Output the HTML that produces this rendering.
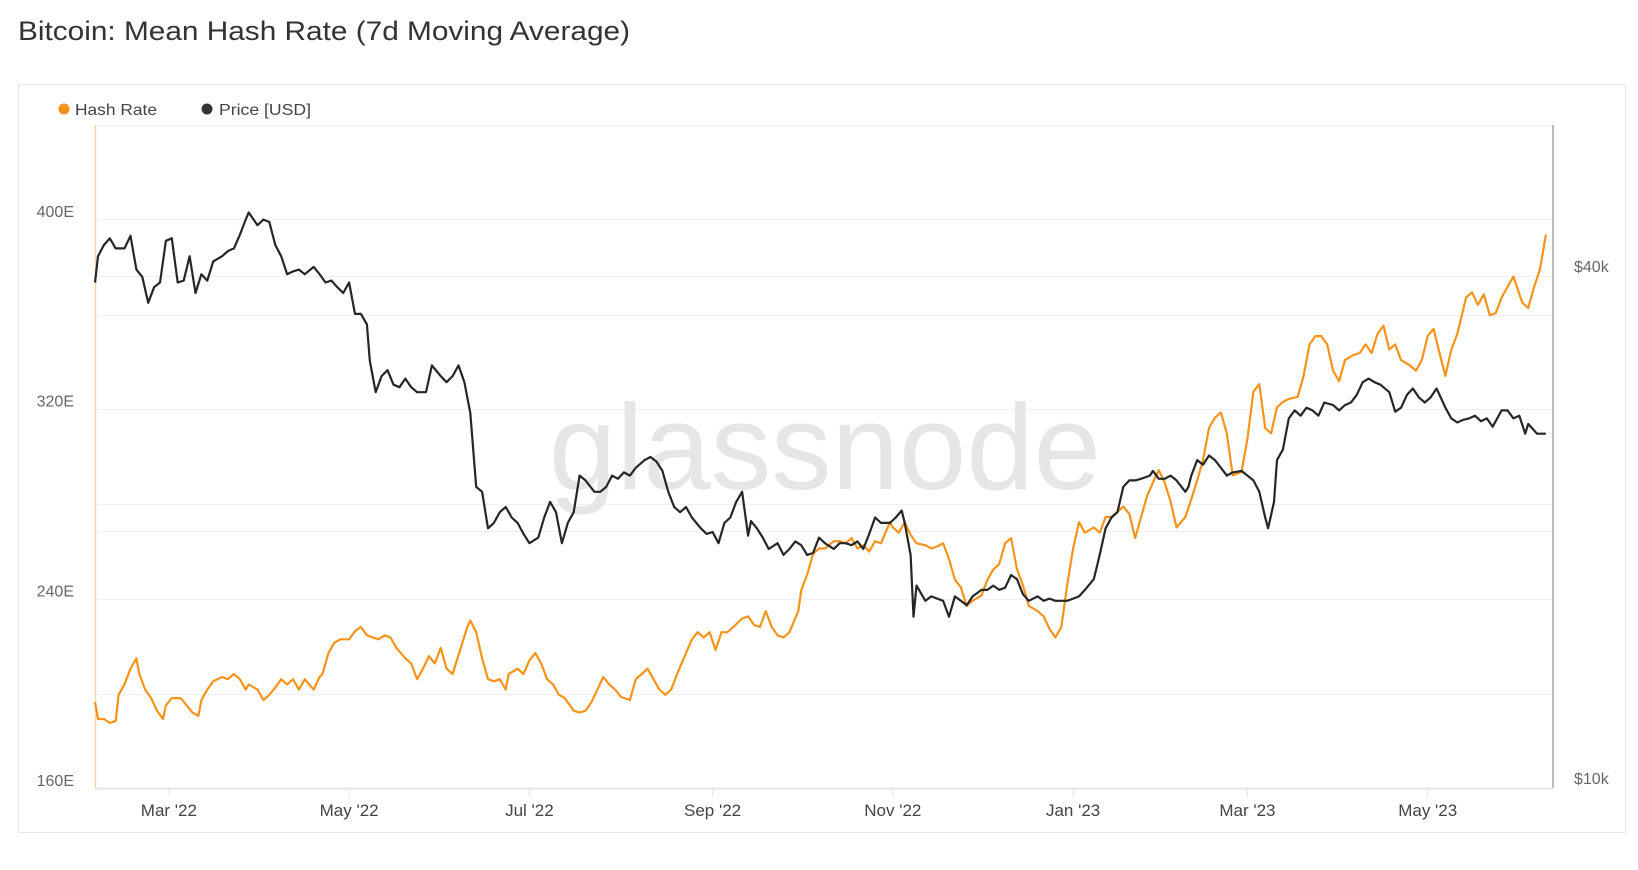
<!DOCTYPE html>
<html><head><meta charset="utf-8"><style>
html,body{margin:0;padding:0;background:#fff;}
svg{display:block;font-family:"Liberation Sans",sans-serif;}
</style></head><body>
<svg id="chart" width="1638" height="870" viewBox="0 0 1638 870" xmlns="http://www.w3.org/2000/svg">
<text x="18" y="40" font-size="27" fill="#333" textLength="612" lengthAdjust="spacingAndGlyphs">Bitcoin: Mean Hash Rate (7d Moving Average)</text>
<rect x="18.5" y="84.5" width="1607" height="748" fill="none" stroke="#e8e8e8"/>
<g>
<circle cx="64" cy="109" r="5.5" fill="#f7931a"/>
<text x="75" y="115" font-size="16" fill="#444" textLength="82" lengthAdjust="spacingAndGlyphs">Hash Rate</text>
<circle cx="207" cy="109" r="5.5" fill="#333"/>
<text x="219" y="115" font-size="16" fill="#444" textLength="92" lengthAdjust="spacingAndGlyphs">Price [USD]</text>
</g>
<g id="grid"></g>
<text x="549" y="489" font-size="122" fill="#e6e6e6" textLength="552" lengthAdjust="spacingAndGlyphs">glassnode</text>
<line x1="95" y1="125.5" x2="1553" y2="125.5" stroke="#eee"/>
<line x1="95.5" y1="125" x2="95.5" y2="788" stroke="#fcd3a6" stroke-width="1.5"/>
<line x1="1553" y1="125" x2="1553" y2="788" stroke="#bbb" stroke-width="2"/>
<line x1="95" y1="788.5" x2="1553" y2="788.5" stroke="#e4e4e4" stroke-width="2"/>
<g id="axes"></g>
<g id="series"></g>
</svg>
<script>
const hashDays=[0,1,3,5,7,8,10,12,14,15,17,19,21,23,24,26,29,31,33,35,36,38,40,43,45,47,49,51,52,55,57,59,61,63,65,67,69,71,74,76,77,79,81,83,86,88,90,92,94,96,98,100,102,105,107,109,111,113,115,117,119,121,124,126,127,129,131,133,135,137,139,140,143,145,147,149,151,153,155,157,159,162,164,166,168,170,172,174,176,178,181,183,185,187,189,191,193,195,197,200,202,204,206,208,210,212,214,216,219,221,223,225,227,229,231,233,235,238,239,241,243,245,247,250,252,254,256,258,260,262,264,266,269,270,272,274,276,278,281,283,285,287,289,291,293,295,297,300,302,304,306,308,310,312,314,316,319,321,323,325,327,329,331,333,335,338,340,342,344,346,348,350,352,354,356,358,360,362,364,366,369,371,373,375,377,379,381,383,385,388,390,392,394,396,398,400,402,404,407,409,411,413,415,417,419,421,423,426,428,430,432,434,436,438,440,442,445,447,449,451,453,455,457,459,461,464,466,468,470,472,474,476,478,480,483,485,487,489,491];
const hashValues=[196.2,189.1,189.1,187.4,188.2,199.3,203.7,210.3,214.7,208.1,201.5,197.9,192.6,189.1,194.9,197.9,197.9,194.9,191.8,190.4,197.1,201.5,205.0,206.8,205.9,208.1,205.9,201.5,203.7,201.5,197.1,199.3,202.4,205.9,203.7,205.9,201.5,205.9,201.5,206.8,208.1,216.9,221.3,222.7,222.7,226.2,227.9,224.4,223.5,222.7,224.4,223.5,219.1,214.7,212.5,205.9,210.3,215.6,212.5,219.1,210.3,208.1,220.0,227.9,230.6,225.7,214.7,205.9,205.0,205.9,201.5,208.1,210.3,208.1,213.8,216.9,212.5,205.9,203.7,199.3,197.9,192.6,191.8,192.6,196.2,201.5,206.8,203.7,201.5,198.4,197.1,205.9,208.1,210.3,205.9,201.5,199.3,201.5,208.1,216.9,222.7,225.7,223.5,225.7,218.2,225.7,225.7,227.9,231.5,232.4,228.8,227.9,234.6,227.9,224.4,223.5,225.7,234.6,243.4,250.0,258.8,261.0,261.0,264.1,264.1,263.2,265.4,261.0,262.4,259.7,264.1,263.2,272.1,269.9,267.7,272.1,266.8,263.2,262.4,261.0,261.9,263.2,256.6,247.8,244.7,236.8,239.0,241.2,247.8,252.2,254.4,263.2,265.4,252.2,245.6,236.8,234.6,232.4,227.1,223.5,227.9,245.6,261.0,272.1,267.7,269.9,267.7,274.3,274.3,276.5,278.7,275.6,265.4,274.3,283.1,288.8,294.1,288.8,280.9,269.9,274.3,281.8,289.7,298.5,311.8,316.2,318.4,309.6,291.9,293.2,307.4,327.2,330.3,311.8,309.6,320.6,322.8,324.1,325.0,333.8,347.1,350.6,350.6,347.1,336.0,331.6,340.5,342.7,343.5,347.1,343.5,351.5,355.0,344.9,347.1,340.5,338.2,336.0,340.5,350.6,353.7,343.5,333.8,344.9,351.5,366.9,369.1,363.8,368.2,359.4,360.3,366.9,371.3,375.7,364.7,362.5,371.3,378.8,393.4];
const priceDays=[0,1,3,5,7,10,12,14,16,18,20,22,24,26,28,30,32,34,36,38,40,43,45,47,49,51,52,55,57,59,61,63,65,67,69,71,74,76,78,80,82,84,86,88,90,92,93,95,97,99,101,103,105,107,109,112,114,117,119,121,123,125,127,129,131,133,135,137,139,141,143,145,147,150,152,154,156,158,160,162,164,166,169,171,173,175,177,179,181,183,186,188,190,192,194,196,198,200,202,205,207,209,211,213,215,217,219,221,222,224,226,228,231,233,235,237,239,241,243,245,247,250,252,254,256,258,260,262,264,266,269,271,273,274,276,277,278,281,283,285,287,289,291,293,295,297,300,302,304,306,308,310,312,314,316,319,321,323,325,327,329,331,333,335,338,340,342,344,346,348,350,352,354,357,358,360,362,364,366,369,370,371,373,375,377,379,381,383,385,388,390,392,394,396,397,399,400,402,404,406,408,410,412,414,416,419,421,423,425,427,429,431,433,435,438,440,442,444,446,448,450,452,454,457,459,461,463,465,467,469,471,473,476,478,480,482,484,485,488,490,491];
const priceValues=[39.3,42.2,43.5,44.3,43.1,43.1,44.6,40.7,39.9,37.2,38.8,39.3,44.0,44.3,39.3,39.5,42.2,38.2,40.2,39.5,41.6,42.2,42.8,43.1,44.7,46.6,47.5,45.9,46.6,46.3,43.5,42.2,40.2,40.5,40.7,40.2,41.0,40.2,39.3,39.5,38.8,38.2,39.3,36.1,36.1,35.1,31.8,29.2,30.5,31.0,29.8,29.6,30.3,29.6,29.2,29.2,31.4,30.5,30.0,30.5,31.4,30.0,27.6,22.6,22.3,20.2,20.5,21.1,21.4,20.8,20.5,19.9,19.4,19.7,20.8,21.7,21.1,19.4,20.5,21.1,23.3,23.0,22.3,22.3,22.6,23.3,23.1,23.5,23.3,23.8,24.3,24.5,24.2,23.6,22.3,21.4,21.1,21.4,20.8,20.2,19.9,20.0,19.4,20.5,20.8,21.7,22.3,19.8,20.6,20.2,19.7,19.1,19.4,18.8,19.1,19.5,19.3,18.8,18.9,19.7,19.4,19.1,19.4,19.4,19.3,19.5,19.1,19.9,20.8,20.5,20.5,20.8,21.2,20.5,18.8,15.9,17.3,16.6,16.8,16.7,16.6,15.9,16.8,16.6,16.4,16.8,17.1,17.1,17.3,17.1,17.2,17.8,17.6,16.9,16.6,16.8,16.6,16.7,16.6,16.6,16.6,16.7,16.8,17.1,17.6,18.8,20.2,20.8,21.1,22.6,23.0,23.0,23.1,23.3,23.6,23.1,23.1,23.3,23.0,22.3,22.6,23.3,24.3,24.0,24.6,24.3,23.8,23.3,23.5,23.6,23.3,23.0,22.3,20.8,20.2,21.7,24.3,25.0,27.2,27.8,27.4,28.0,27.8,27.4,28.4,28.2,27.8,28.2,28.4,29.0,30.0,30.3,30.0,29.8,29.2,27.7,28.0,29.0,29.5,28.8,28.4,28.8,29.5,28.0,27.2,26.9,27.1,27.2,27.4,27.0,27.2,26.6,27.8,27.8,27.2,27.4,26.1,26.8,26.1,26.1,26.1];
const leftTicks=[160,240,320,400];
const rightTicks=[10,40];
const xTickLabels=["Mar '22","May '22","Jul '22","Sep '22","Nov '22","Jan '23","Mar '23","May '23"];
const xTickDays=[25,86,147,209,270,331,390,451];

const NS="http://www.w3.org/2000/svg";
const X0=95,PXD=2.955,YB=788;
function xs(d){return X0+d*PXD;}
function yHash(h){return YB-(h-160)*(YB-219)/240;}
function yPrice(p){return YB-256*Math.log2(p/10);}
function mk(tag,attrs,parent){const e=document.createElementNS(NS,tag);for(const k in attrs)e.setAttribute(k,attrs[k]);parent.appendChild(e);return e;}

const grid=document.getElementById('grid');
[219,276,315,409,504,531,599,694].forEach(y=>{
  const l=mk('line',{x1:95,x2:1553,y1:y+0.5,y2:y+0.5,stroke:'#f0f0f0'},grid);
  
  
});
const axes=document.getElementById('axes');
leftTicks.forEach(v=>{
  const t=mk('text',{x:74,y:yHash(v)-2,'text-anchor':'end','font-size':16,fill:'#666'},axes);
  t.textContent=v+'E';
  
  
});
rightTicks.forEach(v=>{
  const t=mk('text',{x:1574,y:yPrice(v)-4,'font-size':16,fill:'#666'},axes);
  t.textContent='$'+v+'k';
  
  
});
xTickLabels.forEach((lab,i)=>{
  const x=xs(xTickDays[i]);
  const tk=mk('line',{x1:x,x2:x,y1:789,y2:797,stroke:'#e6e6e6'},axes);
  
  
  const t=mk('text',{x:x,y:816,'text-anchor':'middle','font-size':17,fill:'#444'},axes);
  t.textContent=lab;
  
  
});
const series=document.getElementById('series');
const hp=mk('path',{d:hashDays.map((d,i)=>(i?'L':'M')+xs(d).toFixed(1)+','+yHash(hashValues[i]).toFixed(1)).join(''),fill:'none',stroke:'#f7931a','stroke-width':2.2,'stroke-linejoin':'round'},series);


const pp=mk('path',{d:priceDays.map((d,i)=>(i?'L':'M')+xs(d).toFixed(1)+','+yPrice(priceValues[i]).toFixed(1)).join(''),fill:'none',stroke:'#262626','stroke-width':2.2,'stroke-linejoin':'round'},series);


</script>
</body></html>
